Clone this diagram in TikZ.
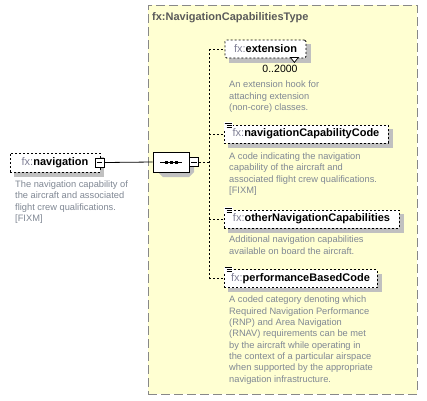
\documentclass[tikz,border=0pt]{standalone}
\usepackage{fontspec}
\setmainfont{Liberation Sans}
\usetikzlibrary{shapes.misc}
\definecolor{bgyellow}{RGB}{255,255,210}
\definecolor{shadowgrey}{RGB}{192,192,192}
\definecolor{descgray}{RGB}{128,136,148}
\definecolor{fxgray}{RGB}{128,128,150}
\definecolor{titlegray}{RGB}{90,90,90}
\definecolor{framegray}{RGB}{136,136,136}
\newcommand\attrmark[1]{%
  \begin{scope}[shift={(#1.north west)}]
    \fill[white] (0.5,-2.5) rectangle (9,4);
    \draw[line width=0.7pt] (1,-1.5) -- (8,-1.5) (3,0.5) -- (8,0.5) (3,2.5) -- (8,2.5);
  \end{scope}}
\newcommand\fxname[1]{{\color{fxgray}fx:}\textbf{#1}}
\begin{document}
\begin{tikzpicture}[x=1pt,y=-1pt,
  elem/.style={draw=black, line width=0.8pt, dash pattern=on 2pt off 2pt, fill=white,
    inner sep=0pt, minimum height=18pt, font=\fontsize{11}{13}\selectfont},
  minusbox/.style={draw=black, line width=0.8pt, fill=white, minimum size=9pt, inner sep=0pt},
  desc/.style={anchor=north west, align=left, inner sep=0pt, text=descgray,
    font=\fontsize{9.3}{11.3}\selectfont},
  conn/.style={draw=black, line width=0.8pt, dash pattern=on 2pt off 2pt},
  solidconn/.style={draw=black, line width=0.8pt}
]
\useasboundingbox (0,0) rectangle (427,400);
\fill[white] (0,0) rectangle (427,400);
% frame of the complex type
\node[draw=framegray, line width=1pt, dash pattern=on 9pt off 4pt, fill=bgyellow,
  minimum width=269pt, minimum height=389pt, inner sep=0pt] (frame) at (282.5,199.5) {};
\node[anchor=base west, inner sep=0pt, text=titlegray, font=\bfseries\fontsize{11}{13}\selectfont]
  (title) at (152,20) {fx:NavigationCapabilitiesType};

% shadows (drawn first, under the boxes)
\fill[shadowgrey] (14,157) rectangle (104,177);
\fill[shadowgrey] (158,156) -- (189,156) -- (194,161) -- (194,172) -- (189,177) -- (163,177) -- (158,172) -- cycle;
\fill[shadowgrey] (229,44) rectangle (311,63);
\fill[shadowgrey] (228,129) rectangle (393,148);
\fill[shadowgrey] (228,214) rectangle (404,233);
\fill[shadowgrey] (228,274) rectangle (382,292);

% navigation element
\node[elem, minimum width=90pt, minimum height=19pt] (nav) at (55,162.5) {\fxname{navigation}\hspace{6pt}};
\node[minusbox] (navminus) at (99.5,162.5) {};
\draw[line width=0.8pt] ([xshift=2pt]navminus.west) -- ([xshift=-2pt]navminus.east);
\node[desc] (navdesc) at (15,180.5) {The navigation capability of\\the aircraft and associated\\flight crew qualifications.\\{}[FIXM]};

% sequence compositor
\node[draw=black, line width=0.8pt, fill=white, chamfered rectangle,
  chamfered rectangle xsep=5pt, chamfered rectangle ysep=5pt,
  minimum width=36pt, minimum height=20pt, inner sep=0pt] (seq) at (171,162) {};
\draw[line width=0.8pt] ([xshift=-11pt]seq.center) -- ([xshift=11pt]seq.center);
\foreach \dx in {-5,0,5}
  \fill ([shift={(\dx pt-1.5pt,-1.5pt)}]seq.center) rectangle ++(3pt,3pt);
\node[minusbox] (seqminus) at (194,162) {};
\draw[line width=0.8pt] ([xshift=2pt]seqminus.west) -- ([xshift=-2pt]seqminus.east);

\draw[solidconn] (navminus.east) -- (seq.west);

% children
\node[elem, rounded corners=1.5pt, minimum width=81pt] (ext) at (265.5,49) {\fxname{extension}};
\draw[line width=0.7pt, fill=white] ([shift={(-16,-1)}]ext.south east) -- ([shift={(-8,-1)}]ext.south east)
  -- ([shift={(-12,4)}]ext.south east) -- cycle;
\node[anchor=base, inner sep=0pt, font=\fontsize{10.5}{12}\selectfont] (extcount) at (280,72) {0..2000};
\node[desc] (extdesc) at (229,81) {An extension hook for\\attaching extension\\(non-core) classes.};

\node[elem, minimum width=164pt] (ncc) at (306,134) {\fxname{navigationCapabilityCode}};
\attrmark{ncc}
\node[desc] (nccdesc) at (229,152.5) {A code indicating the navigation\\capability of the aircraft and\\associated flight crew qualifications.\\{}[FIXM]};

\node[elem, minimum width=175pt] (onc) at (311.5,219) {\fxname{otherNavigationCapabilities}};
\attrmark{onc}
\node[desc] (oncdesc) at (229,236) {Additional navigation capabilities\\available on board the aircraft.};

\node[elem, minimum width=153pt] (pbc) at (300.5,278.5) {\fxname{performanceBasedCode}};
\attrmark{pbc}
\node[desc] (pbcdesc) at (229,296) {A coded category denoting which\\Required Navigation Performance\\(RNP) and Area Navigation\\(RNAV) requirements can be met\\by the aircraft while operating in\\the context of a particular airspace\\when supported by the appropriate\\navigation infrastructure.};

% connectors
\coordinate (bus) at (209,162);
\draw[conn] (seqminus.east) -- (bus);
\draw[conn] (ext.west -| bus) -- (pbc.west -| bus);
\draw[conn] (ext.west -| bus) -- (ext.west);
\draw[conn] (ncc.west -| bus) -- (ncc.west);
\draw[conn] (onc.west -| bus) -- (onc.west);
\draw[conn] (pbc.west -| bus) -- (pbc.west);
\end{tikzpicture}
\end{document}
